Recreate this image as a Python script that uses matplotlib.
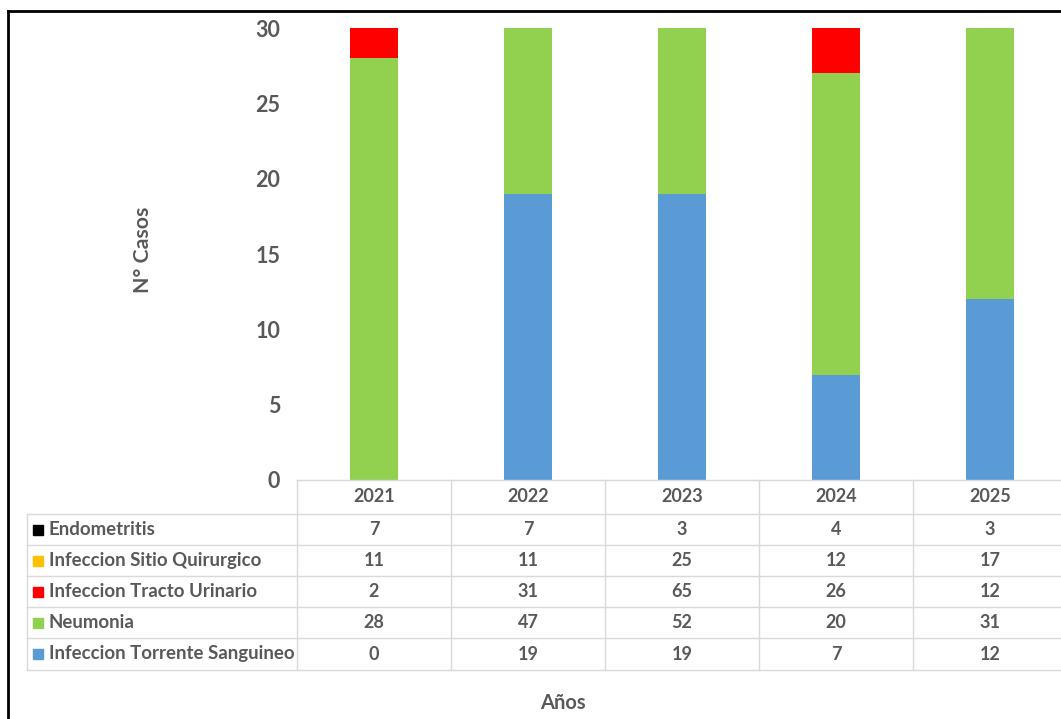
import matplotlib
matplotlib.use("Agg")
import matplotlib.pyplot as plt
import matplotlib.transforms as mtransforms
from matplotlib.lines import Line2D
from matplotlib.patches import Rectangle

years = ['2021', '2022', '2023', '2024', '2025']
series = ['Infeccion Torrente Sanguineo', 'Neumonia', 'Infeccion Tracto Urinario',
          'Infeccion Sitio Quirurgico', 'Endometritis']
torrente = [0, 19, 19, 7, 12]
neumonia = [28, 47, 52, 20, 31]
tracto = [2, 31, 65, 26, 12]
sitio = [11, 11, 25, 12, 17]
endometritis = [7, 7, 3, 4, 3]
values = [torrente, neumonia, tracto, sitio, endometritis]
colors = ['#5B9BD5', '#92D050', '#FF0000', '#FFC000', '#000000']

plt.rcParams['font.family'] = ['Lato', 'DejaVu Sans']
W, H = 1061, 719
fig = plt.figure(figsize=(W / 100, H / 100), dpi=100)
gray = '#595959'
grid = '#d9d9d9'

def fx(px):
    return px / W

def fy(py):
    return 1 - py / H

ax = fig.add_axes([fx(297), fy(480), 770 / W, 452 / H])
x = list(range(len(years)))
bottom = [0] * len(years)
for name, vals, c in zip(series, values, colors):
    ax.bar(x, vals, 0.31, bottom=bottom, color=c, label=name)
    bottom = [b + v for b, v in zip(bottom, vals)]

ax.set_xlim(-0.5, 4.5)
ax.set_ylim(0, 30)
ax.set_yticks(range(0, 31, 5))
ax.set_xticks([])
ax.tick_params(axis='y', length=0, pad=12, labelsize=15.5, labelcolor=gray)
for lab in ax.get_yticklabels():
    lab.set_fontweight('bold')
for s in ax.spines.values():
    s.set_visible(False)

# data table below the plot
tr = mtransforms.blended_transform_factory(ax.transData, ax.transAxes)
def ay(py):
    return (480 - py) / 452

row_edges = [480, 514, 545, 576, 607, 638, 670]
left_px = 27
left_ax = (left_px - 297) / 770
ax.add_line(Line2D([0, 1], [ay(480), ay(480)], transform=ax.transAxes, color=grid, lw=1, clip_on=False))
for yy in row_edges[1:]:
    ax.add_line(Line2D([left_ax, 1], [ay(yy), ay(yy)], transform=ax.transAxes, color=grid, lw=1, clip_on=False))
ax.add_line(Line2D([left_ax, left_ax], [ay(514), ay(670)], transform=ax.transAxes, color=grid, lw=1, clip_on=False))
for b in [-0.5, 0.5, 1.5, 2.5, 3.5]:
    ax.add_line(Line2D([b, b], [ay(480), ay(670)], transform=tr, color=grid, lw=1, clip_on=False))

tsize = 13
for i, yr in enumerate(years):
    ax.text(i, ay(497), yr, transform=tr, ha='center', va='center', fontsize=tsize,
            fontweight='bold', color=gray, clip_on=False)

table_rows = list(zip(series, values, colors))[::-1]
for r, (name, vals, c) in enumerate(table_rows):
    yc = (row_edges[r + 1] + row_edges[r + 2]) / 2
    fig.patches.append(Rectangle((fx(33), fy(yc + 5)), 10 / W, 10 / H, transform=fig.transFigure,
                                 color=c, figure=fig))
    fig.text(fx(49), fy(yc), name, ha='left', va='center', fontsize=13.4,
             fontweight='bold', color=gray)
    for i, v in enumerate(vals):
        ax.text(i, ay(yc), str(v), transform=tr, ha='center', va='center', fontsize=tsize,
                fontweight='bold', color=gray, clip_on=False)

fig.text(fx(143), fy(250), 'N° Casos', rotation=90, ha='center', va='center',
         fontsize=15.3, fontweight='bold', color=gray)
fig.text(fx(563), fy(703), 'Años', ha='center', va='center',
         fontsize=14.5, fontweight='bold', color=gray)

# screenshot frame (left and top edges)
fig.add_artist(Line2D([fx(8), fx(8)], [fy(11), 0], transform=fig.transFigure, color='black', lw=2))
fig.add_artist(Line2D([fx(8), 1], [fy(11), fy(11)], transform=fig.transFigure, color='black', lw=2))

fig.savefig('out.png', dpi=100)
